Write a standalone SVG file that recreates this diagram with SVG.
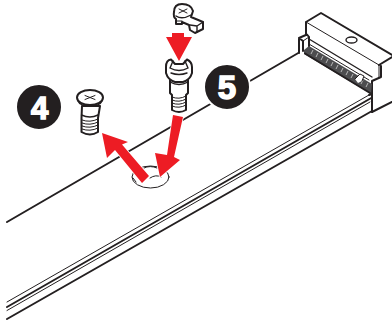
<svg xmlns="http://www.w3.org/2000/svg" width="392" height="324" viewBox="0 0 392 324">
<style>
.k{fill:none;stroke:#231f20;stroke-linejoin:round;stroke-linecap:round}
.t1{stroke-width:2}.t2{stroke-width:1.4}.t3{stroke-width:1}.w{fill:#fff}
.red{fill:#ed1c24;stroke:#fff;stroke-width:1.5;paint-order:stroke}
.badge{fill:#231f20;stroke:#fff;stroke-width:2}
.num{font-family:"Liberation Sans",Arial,sans-serif;font-weight:700;fill:#fff;stroke:#fff;stroke-width:1.5;text-anchor:middle}
</style>
<g id="board">
<path class="k t1" d="M7 222L300 52"/>
<path class="k t3" d="M7 302L369 95"/>
<path class="k t1" d="M7 307L373 97"/>
<path class="k t3" d="M7 310.500L370 102"/>
<path class="k t1" d="M7 319L372 111"/>
</g>
<g id="connector">
<path class="w" d="M306 22L321 13L392 55V103L372 112L372 97L305 55L299 53V38L306 34Z"/>
<path class="k t1" d="M392 55L321 13L306 22V34M379 65L392 57M381 66V77L372 81V112L392 102"/>
<path class="k t3" d="M306 22L379 65V78"/>
<path class="k t1" d="M299 53V38L307 34.500L309 37V47M299 38L303 41V51"/>
<path class="k t2" d="M309 39L372 77"/>
<path class="k t3" d="M303 41L309 37M309 44L369 80"/>
<path d="M304 50L309 46L372 84L371 94L304 54Z" fill="#4d4d4f"/>
<path class="k t1" d="M305 53.500L370 93"/>
<path stroke="#fff" stroke-width=".6" fill="none" d="M311 54L313 50M316 57L318 53M321 60L323 56M326 63L328 59M331 66L333 62M336 69L338 65M341 72L343 68M346 75L348 71M351 78L353 74M361 84L363 80M366 87L368 83"/>
<path class="w" d="M355 79L360 74L364 76L362 81L358 83Z"/>
<path class="k t3" d="M355 79L360 74L364 76L362 81"/>
<ellipse class="k t2" cx="351.500" cy="40" rx="5.500" ry="3"/>
<path class="k t1" d="M372 94V112M369 95L372 94"/>
</g>
<g id="hole">
<ellipse class="k t3" cx="150.500" cy="177" rx="18.500" ry="11"/>
<path class="k t3" d="M144 168Q150 165 157 168M150 178Q156 174 161 177M136 182L133 178"/>
</g>
<g id="arrows">
<path class="red" d="M172 33H184V37H192L179 61L166 37H172Z"/>
<path class="red" d="M173 115L183 117L174 157L180 160L160 177L155 153L167 155Z"/>
<path class="red" d="M102 133L128 142L122 144.500L149 176L142 183L115 150L107 158Z"/>
</g>
<g id="badge-4"><circle class="badge" cx="39" cy="107" r="23"/><text class="num" font-size="31" x="39.500" y="119">4</text></g>
<g id="badge-5"><circle class="badge" cx="227" cy="87" r="23"/><text class="num" font-size="33" x="227" y="99">5</text></g>
<g id="screw-4">
<path class="k t1 w" d="M82 106L81.500 118V132Q90 137 98 132V118L100 106Z"/>
<ellipse class="k t1 w" cx="90" cy="97.500" rx="13" ry="7.500"/>
<path class="k t2" d="M78 101Q80 106 90 106Q100 106 102 101M81.500 115Q90 119 98 115"/>
<path class="k t3" d="M85 95.500L95 99.500M85 99.500L95 95.500M82 120Q90 123 98 119M82 123Q90 126 98 122M82 126Q90 129 98 125M82 129Q90 132 98 128"/>
</g>
<g id="screw-5">
<path class="k t1 w" d="M170 78V93L172 95V110Q179 114 186 110V95L188 93V78Z"/>
<path class="k t1 w" d="M166 67Q166 60 171 59.500L175 64H183L187 59.500Q192 62 192 67V73Q190 80 183 82H175Q168 80 166 73Z"/>
<path class="k t2" d="M170 68L173 61M188 68L185 61M170 68Q179 73 188 68M171 73Q179 76 187 73M170 82Q179 87 188 82"/>
<path class="k t3" d="M172 97Q179 100 186 96M172 100Q179 103 186 99M172 103Q179 106 186 102M172 106Q179 109 186 105"/>
</g>
<g id="screw-cap">
<path class="k t1 w" d="M174 12Q174 4 182 4Q191 4 193 11L191 17L203 22V29L195 33L190 30L189 25L182 22V24L176 24V19Q173 17 174 12Z"/>
<path class="k t2" d="M176 16Q182 20 191 15M190 25L197 26L203 22M197 26V32"/>
<path class="k t3" d="M179 9L187 13M179 13L187 9M177 21H182"/>
</g>
</svg>
